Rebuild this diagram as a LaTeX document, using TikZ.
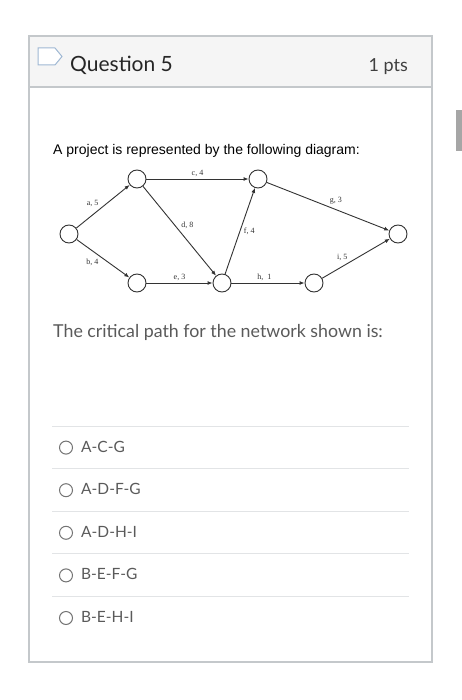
\documentclass[tikz,border=0pt]{standalone}
\usepackage{fontspec}
\setmainfont{Lato}
\newfontfamily\diagfont{Liberation Sans}
\newfontfamily\labfont{Liberation Serif}
\usetikzlibrary{arrows.meta}
\definecolor{cardline}{HTML}{C4C8CB}
\definecolor{headfill}{HTML}{F5F5F5}
\definecolor{sepline}{HTML}{E2E4E6}
\definecolor{iconblue}{HTML}{9FB8D3}
\definecolor{textgray}{HTML}{5A5A5A}
\tikzset{
    event/.style={circle,draw=black!80,fill=white,minimum size=18pt,inner sep=0pt,line width=0.9pt},
    act/.style={-{Latex[length=5pt,width=4pt]},draw=black!80,line width=0.9pt},
    lab/.style={font=\labfont\fontsize{8}{9}\selectfont,inner sep=1.5pt,text=black!80},
    radio/.style={circle,draw=black!55,line width=1pt,minimum size=13pt,inner sep=0pt},
    choice/.style={anchor=west,font=\fontsize{15.5}{17}\selectfont,text=textgray,inner sep=0pt}
}

\begin{document}
\begin{tikzpicture}[x=1pt,y=-1pt]
\useasboundingbox (0,0) rectangle (462,700);
% card and header
\fill[white] (0,0) rectangle (462,700);
\draw[cardline,fill=headfill,line width=1.2pt] (29,36) rectangle (432,87);
\draw[cardline,line width=1.2pt] (29,87) rectangle (432,662);
\draw[iconblue,fill=white,line width=1pt] (38,48) -- (55,48) -- (62,56.5) -- (55,65) -- (38,65) -- cycle;
\node[anchor=base west,font=\fontsize{21}{24}\selectfont,text=black!85,inner sep=0pt] (title) at (70,72) {Question 5};
\node[anchor=base east,font=\fontsize{18}{20}\selectfont,text=black!75,inner sep=0pt] (points) at (408,72) {1 pts};
\fill[black!35] (456,110) rectangle (461.5,151);
% question text
\node[anchor=base west,font=\diagfont\fontsize{14}{16}\selectfont,inner sep=0pt] (intro) at (53,155) {A project is represented by the following diagram:};
% network
\node[event] (n1) at (69,234) {};
\node[event] (n2) at (137,179) {};
\node[event] (n3) at (137,283) {};
\node[event] (n4) at (258,179) {};
\node[event] (n5) at (222,283) {};
\node[event] (n6) at (314,283) {};
\node[event] (n7) at (398,234) {};
\draw[act] (n1) -- node[lab,pos=0.45,above left]{a, 5} (n2);
\draw[act] (n1) -- node[lab,pos=0.45,below left]{b, 4} (n3);
\draw[act] (n2) -- node[lab,pos=0.5,above]{c, 4} (n4);
\draw[act] (n2) -- node[lab,pos=0.5,above right]{d, 8} (n5);
\draw[act] (n3) -- node[lab,pos=0.5,above]{e, 3} (n5);
\draw[act] (n5) -- node[lab,pos=0.5,right,xshift=2pt]{f, 4} (n4);
\draw[act] (n4) -- node[lab,pos=0.5,above right]{g, 3} (n7);
\draw[act] (n5) -- node[lab,pos=0.45,above]{h,\ \ 1} (n6);
\draw[act] (n6) -- node[lab,pos=0.4,above left]{i, 5} (n7);
% prompt and answers
\node[anchor=base west,font=\fontsize{17.8}{20}\selectfont,text=textgray,inner sep=0pt] (prompt) at (53,337) {The critical path for the network shown is:};
\foreach \opt [count=\i] in {A-C-G,A-D-F-G,A-D-H-I,B-E-F-G,B-E-H-I}{
    \draw[sepline,line width=1pt] (52,383.5+42.6*\i) -- (409,383.5+42.6*\i);
    \node[radio] (r\i) at (66,405+42.6*\i) {};
    \node[choice] (c\i) at (81,404+42.6*\i) {\opt};
}
\end{tikzpicture}
\end{document}
